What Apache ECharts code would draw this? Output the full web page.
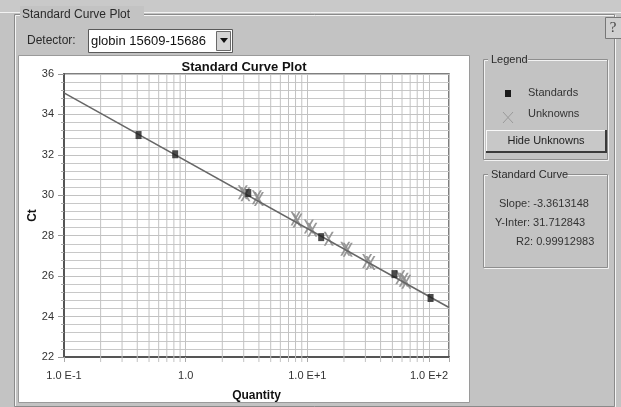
<!DOCTYPE html>
<html>
<head>
<meta charset="utf-8">
<script src="https://cdn.jsdelivr.net/npm/echarts@6/dist/echarts.min.js"></script>
<style>
  html, body { margin: 0; padding: 0; background: #c3c3c3; }
  #chart { width: 621px; height: 407px; }
</style>
</head>
<body>
<div id="chart"></div>
<script>
// ---- data ----
const xTickValues = [0.1, 1, 10, 100];
const xTickLabels = ['1.0 E-1', '1.0', '1.0 E+1', '1.0 E+2'];
const xMinorGrid = [0.2, 0.3, 0.4, 0.5, 0.6, 0.7, 0.8, 0.9,
                    2, 3, 4, 5, 6, 7, 8, 9,
                    20, 30, 40, 50, 60, 70, 80, 90];
const xMin = 0.1;
const xMax = 146;
const yMin = 22;
const yMax = 36;
const yInterval = 2;

// Standards: [quantity, Ct]
const standards = [
  [0.41, 32.98], [0.82, 32.03], [3.27, 30.11],
  [13.0, 27.93], [52, 26.1], [103, 24.92]
];
// Unknowns (replicates): [quantity, Ct]
const unknowns = [
  [2.95, 30.15], [3.1, 30.05], [3.85, 29.9], [4.0, 29.82],
  [8.0, 28.85], [8.3, 28.75], [10.3, 28.45], [11.0, 28.3],
  [15.0, 27.85], [20.5, 27.35], [21.5, 27.3],
  [31, 26.75], [33, 26.65], [58, 25.95], [62, 25.82], [65, 25.72]
];
// Fitted standard curve, end points
const fitLine = [[0.1, 35.07], [146, 24.45]];

const slopeText = 'Slope: -3.3613148';
const interText = 'Y-Inter: 31.712843';
const r2Text = 'R2: 0.99912983';
const detectorText = 'globin 15609-15686';

// ---- chart ----
const FONT = '"Liberation Sans", Arial, sans-serif';
const chart = echarts.init(document.getElementById('chart'), null, { renderer: 'canvas' });

const xPath = 'path://M0,0 L2,0 L10,14 L8,14 Z M8,0 L10,0 L2,14 L0,14 Z';
const GRID = '#c2c2c2';

function txt(x, y, text, opts) {
  return {
    type: 'text', x: x, y: y, z: 100,
    style: Object.assign({
      text: text, fill: '#222', font: '12px ' + FONT,
      textVerticalAlign: 'middle', verticalAlign: 'middle'
    }, opts || {})
  };
}
function rect(x, y, w, h, style, z) {
  return { type: 'rect', z: z === undefined ? -10 : z, shape: { x: x, y: y, width: w, height: h }, style: style };
}
function line(x1, y1, x2, y2, stroke, lw, z) {
  return { type: 'line', z: z === undefined ? -5 : z, shape: { x1: x1, y1: y1, x2: x2, y2: y2 }, style: { stroke: stroke, lineWidth: lw || 1 } };
}

const graphics = [
  // window strip
  rect(0, 0, 621, 12, { fill: '#c9c9c9' }, -20),
  line(0, 12.5, 621, 12.5, '#f2f2f2', 1, -19),
  // outer group box
  rect(15.5, 15.5, 600, 392, { fill: 'none', stroke: '#f4f4f4', lineWidth: 1 }, -15),
  rect(14.5, 14.5, 600, 392, { fill: 'none', stroke: '#8a8a8a', lineWidth: 1 }, -15),
  rect(20, 6, 124, 16, { fill: '#c3c3c3' }, -14),
  txt(22, 15, 'Standard Curve Plot', { font: '12px ' + FONT, fill: '#2a2a2a' }),
  // detector
  txt(27, 41, 'Detector:', { font: '12px ' + FONT, fill: '#2a2a2a' }),
  rect(88.5, 29.5, 144, 23, { fill: '#ffffff', stroke: '#5a5a5a', lineWidth: 1 }, -12),
  txt(91, 41, detectorText, { font: '13px ' + FONT, fill: '#111' }),
  rect(216.5, 31.5, 14, 19, { fill: '#d4d4d4', stroke: '#6a6a6a', lineWidth: 1 }, -11),
  { type: 'polygon', z: 100, shape: { points: [[220, 38], [228, 38], [224, 43]] }, style: { fill: '#111' } },
  // help button
  rect(605.5, 17.5, 16, 21, { fill: '#cfcfcf', stroke: '#777', lineWidth: 1 }, -11),
  txt(613, 28, '?', { font: '15px "Liberation Serif", serif', fill: '#444', textAlign: 'center', align: 'center' }),
  // white chart panel
  rect(18.5, 55.5, 451, 347, { fill: '#ffffff', stroke: '#9a9a9a', lineWidth: 1 }, -12),
  // legend group
  rect(484.5, 60.5, 124, 100, { fill: 'none', stroke: '#f2f2f2', lineWidth: 1 }, -11),
  rect(483.5, 59.5, 124, 100, { fill: 'none', stroke: '#8e8e8e', lineWidth: 1 }, -11),
  rect(488, 53, 40, 14, { fill: '#c3c3c3' }, -10),
  txt(491, 60, 'Legend', { font: '11px ' + FONT, fill: '#2a2a2a' }),
  rect(505, 90, 6, 7, { fill: '#1a1a1a' }, 100),
  txt(528, 93, 'Standards', { font: '11px ' + FONT, fill: '#333' }),
  line(503, 112, 513, 123, '#9a9a9a', 1, 100),
  line(513, 112, 503, 123, '#9a9a9a', 1, 100),
  txt(528, 114, 'Unknowns', { font: '11px ' + FONT, fill: '#333' }),
  // button
  rect(486, 130, 121, 23, { fill: '#c8c8c8' }, -9),
  line(486, 130.5, 607, 130.5, '#f8f8f8', 1, -8),
  line(486.5, 130, 486.5, 153, '#f8f8f8', 1, -8),
  line(486, 152, 607, 152, '#3a3a3a', 2, -8),
  line(606, 130, 606, 153, '#3a3a3a', 2, -8),
  txt(546, 141, 'Hide Unknowns', { font: '11px ' + FONT, fill: '#222', textAlign: 'center', align: 'center' }),
  // standard curve group
  rect(484.5, 175.5, 124, 93, { fill: 'none', stroke: '#f2f2f2', lineWidth: 1 }, -11),
  rect(483.5, 174.5, 124, 93, { fill: 'none', stroke: '#8e8e8e', lineWidth: 1 }, -11),
  rect(488, 168, 80, 14, { fill: '#c3c3c3' }, -10),
  txt(491, 175, 'Standard Curve', { font: '11px ' + FONT, fill: '#2a2a2a' }),
  txt(499, 204, slopeText, { font: '11px ' + FONT, fill: '#333' }),
  txt(495, 223, interText, { font: '11px ' + FONT, fill: '#333' }),
  txt(516, 242, r2Text, { font: '11px ' + FONT, fill: '#333' }),
  // plot title
  txt(244, 67, 'Standard Curve Plot', { font: 'bold 13px ' + FONT, fill: '#111', textAlign: 'center', align: 'center' })
];

const option = {
  animation: false,
  backgroundColor: '#c3c3c3',
  textStyle: { fontFamily: FONT },
  graphic: { elements: graphics },
  grid: {
    left: 64, top: 74, right: 172, bottom: 50,
    show: true, borderColor: '#555', borderWidth: 1.5, backgroundColor: 'transparent'
  },
  xAxis: {
    type: 'log', logBase: 10, min: xMin, max: xMax,
    name: 'Quantity', nameLocation: 'middle', nameGap: 33, nameMoveOverlap: false,
    nameTextStyle: { fontWeight: 'bold', fontSize: 12, color: '#111', fontFamily: FONT },
    axisLine: { show: true, lineStyle: { color: '#555', width: 2 } },
    axisTick: { show: true, length: 5, lineStyle: { color: '#aaa' } },
    axisLabel: {
      margin: 13, fontSize: 11, color: '#333', fontFamily: FONT,
      formatter: function (v) {
        const i = xTickValues.findIndex(function (t) { return Math.abs(Math.log10(t) - Math.log10(v)) < 1e-6; });
        return i >= 0 ? xTickLabels[i] : '';
      }
    },
    splitLine: { show: true, lineStyle: { color: GRID, width: 1 } }
  },
  yAxis: {
    type: 'value', min: yMin, max: yMax, interval: yInterval,
    name: 'Ct', nameLocation: 'middle', nameGap: 25, nameMoveOverlap: false,
    nameTextStyle: { fontWeight: 'bold', fontSize: 12, color: '#111', fontFamily: FONT },
    axisLine: { show: true, lineStyle: { color: '#555', width: 2 } },
    axisTick: { show: true, length: 6, lineStyle: { color: '#999' } },
    minorTick: { show: true, splitNumber: 5, length: 3, lineStyle: { color: '#aaa' } },
    axisLabel: { margin: 10, fontSize: 11, color: '#333', fontFamily: FONT },
    splitLine: { show: true, lineStyle: { color: GRID, width: 1 } },
    minorSplitLine: { show: true, lineStyle: { color: '#c8c8c8', width: 1 } }
  },
  series: [
    {
      type: 'custom', z: 1, silent: true,
      data: xMinorGrid.map(function (v) { return [v, yMin]; }),
      renderItem: function (params, api) {
        const v = api.value(0);
        const top = api.coord([v, yMax]);
        const bot = api.coord([v, yMin]);
        return {
          type: 'line',
          shape: { x1: top[0], y1: top[1], x2: bot[0], y2: bot[1] + 5 },
          style: { stroke: GRID, lineWidth: 1 }
        };
      }
    },
    {
      name: 'Unknowns', type: 'scatter', z: 2, data: unknowns,
      symbol: xPath, symbolSize: [10, 14],
      itemStyle: { color: '#8e8e8e', opacity: 0.9 }
    },
    {
      name: 'Standard Curve', type: 'line', z: 3, data: fitLine,
      symbol: 'none', lineStyle: { color: '#666', width: 1.5 }
    },
    {
      name: 'Standards', type: 'scatter', z: 4, data: standards,
      symbol: 'rect', symbolSize: [6, 8],
      itemStyle: { color: '#1e1e1e' }
    }
  ]
};
chart.setOption(option);
</script>
</body>
</html>
